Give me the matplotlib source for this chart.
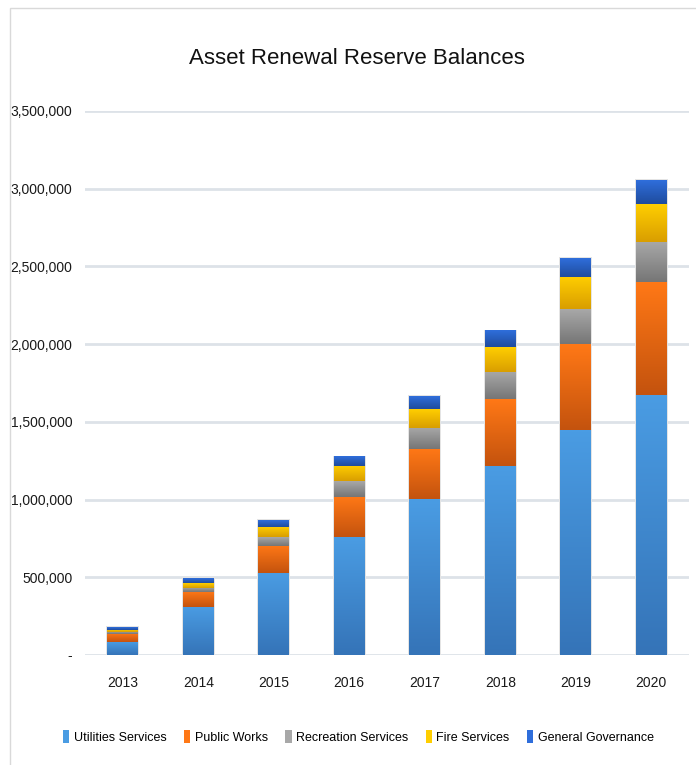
import numpy as np
import matplotlib
matplotlib.use("Agg")
import matplotlib.pyplot as plt
from matplotlib.colors import LinearSegmentedColormap
from matplotlib.patches import Rectangle
from matplotlib.ticker import FuncFormatter

plt.rcParams['font.family'] = ['Liberation Sans', 'DejaVu Sans']

years = ['2013', '2014', '2015', '2016', '2017', '2018', '2019', '2020']
series_names = ['Utilities Services', 'Public Works', 'Recreation Services',
                'Fire Services', 'General Governance']

utilities = [84000, 309000, 528000, 759000, 1003000, 1216000, 1450000, 1673000]
public_works = [53000, 98000, 175000, 258000, 322000, 431000, 553000, 727000]
recreation = [13000, 26000, 56000, 102000, 137000, 176000, 223000, 259000]
fire = [13000, 30000, 65000, 97000, 121000, 159000, 206000, 243000]
governance = [17000, 32000, 45000, 58000, 83000, 103000, 122000, 154000]

# (top colour, bottom colour) for each series gradient
grad_colors = [('#4A9CE3', '#3574B8'),
               ('#FF7816', '#C4530E'),
               ('#A8A8A8', '#767676'),
               ('#FFCE00', '#D99E00'),
               ('#2F6EDB', '#1F4C9E')]

fig = plt.figure(figsize=(6.96, 7.65), dpi=100)
ax = fig.add_axes([85 / 696, 1 - 655 / 765, 604 / 696, 544 / 765])

# chart border
fig.patches.append(Rectangle((10 / 696, -0.05), 1.0, 1 - 8 / 765 + 0.05,
                             transform=fig.transFigure, fill=False,
                             edgecolor='#D9D9D9', linewidth=1.0, zorder=0))

x = np.arange(len(years))
width = 0.41
data = [utilities, public_works, recreation, fire, governance]

bottoms = np.zeros(len(years))
handles = []
for vals, (c_top, c_bot), name in zip(data, grad_colors, series_names):
    vals = np.array(vals, dtype=float)
    bars = ax.bar(x, vals, width, bottom=bottoms, color='none',
                  edgecolor='none', zorder=3)
    cmap = LinearSegmentedColormap.from_list(name, [c_bot, c_top])
    grad = np.linspace(0, 1, 64).reshape(-1, 1)
    for b in bars:
        x0, y0 = b.get_x(), b.get_y()
        ax.imshow(grad, cmap=cmap, origin='lower', aspect='auto',
                  extent=[x0, x0 + b.get_width(), y0, y0 + b.get_height()],
                  zorder=3, interpolation='bilinear')
    handles.append(Rectangle((0, 0), 1, 1, facecolor=c_top, edgecolor='none'))
    bottoms += vals

# faint shadow around each stack
for xi, tot in zip(x, bottoms):
    ax.add_patch(Rectangle((xi - width / 2 - 0.015, 0), width + 0.03, tot + 8000,
                           facecolor='#E4E4E4', edgecolor='none', zorder=2))

ax.set_xlim(-0.5, len(years) - 0.5)
ax.set_ylim(0, 3500000)
ax.set_yticks(np.arange(0, 3500001, 500000))
ax.yaxis.set_major_formatter(FuncFormatter(lambda v, p: '-' if v == 0 else f'{int(v):,}'))
ax.set_xticks(x)
ax.set_xticklabels(years)
ax.grid(axis='y', color='#DDE2E8', linewidth=2, zorder=1)
ax.set_axisbelow(True)
for s in ax.spines.values():
    s.set_visible(False)
ax.tick_params(axis='both', length=0, labelsize=10, colors='#1A1A1A')
ax.tick_params(axis='x', pad=15)
ax.tick_params(axis='y', pad=9)

fig.text(0.513, 1 - 58 / 765, 'Asset Renewal Reserve Balances',
         ha='center', va='center', fontsize=16, color='#111111')

fig.legend(handles, series_names, loc='center', bbox_to_anchor=(0.515, 1 - 737 / 765),
           ncol=5, frameon=False, fontsize=9, handlelength=0.5, handleheight=1.2,
           handletextpad=0.35, columnspacing=1.4)

fig.savefig('out.png', dpi=100)
